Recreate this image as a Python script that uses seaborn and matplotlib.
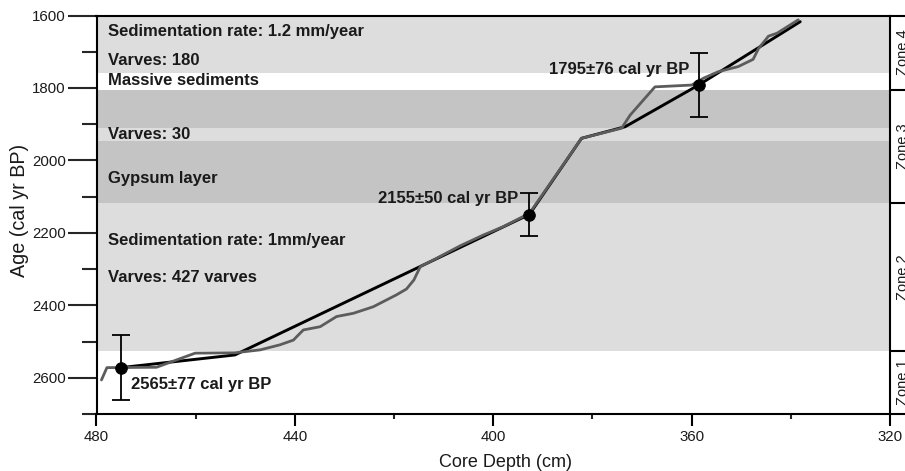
import numpy as np
import pandas as pd
import matplotlib
matplotlib.use("Agg")
import matplotlib.pyplot as plt
import matplotlib.transforms as mtransforms
import seaborn as sns

# ---------------- data ----------------
# linear age model (black line)
model_depth = [475.1, 452.1, 392.7, 382.2, 373.4, 358.6, 338.1]
model_age = [2572, 2537, 2149, 1939, 1907, 1792, 1617]

# varve-counted chronology (grey line)
varve_depth = [479.0, 477.9, 467.9, 460.1, 452.1, 447.0, 443.0, 440.3, 438.3, 434.9,
               431.6, 428.2, 424.2, 419.5, 417.5, 416.0, 414.7, 412.1, 406.7, 402.0,
               398.0, 392.7, 382.2, 374.1, 372.4, 367.4, 360.0, 357.6, 354.6, 350.6,
               347.6, 346.5, 344.5, 342.8, 338.5]
varve_age = [2606, 2572, 2571, 2532, 2531, 2523, 2509, 2496, 2468, 2459,
             2431, 2422, 2404, 2371, 2355, 2330, 2293, 2275, 2236, 2206,
             2183, 2146, 1939, 1911, 1875, 1797, 1792, 1773, 1755, 1741,
             1721, 1691, 1657, 1649, 1612]

# radiocarbon dates
date_depth = [475.1, 392.7, 358.6]
date_age = [2572, 2150, 1792]
date_err = [90, 60, 88]
date_labels = ["2565±77 cal yr BP", "2155±50 cal yr BP", "1795±76 cal yr BP"]

# lithological bands (age from, age to, kind)
band_start = [1600, 1805, 1911, 1946, 2117]
band_end = [1760, 1911, 1946, 2117, 2527]
band_kind = ["light", "dark", "light", "dark", "light"]

# annotations
note_texts = ["Sedimentation rate: 1.2 mm/year", "Varves: 180", "Massive sediments",
              "Varves: 30", "Gypsum layer", "Sedimentation rate: 1mm/year",
              "Varves: 427 varves"]
note_ages = [1645, 1723, 1780, 1928, 2051, 2222, 2323]

# zones
zone_names = ["Zone 4", "Zone 3", "Zone 2", "Zone 1"]
zone_bounds = [1600, 1805, 2117, 2527, 2700]

x_ticks = [480, 440, 400, 360, 320]
x_minor = [460, 420, 380, 340]
y_ticks = [1600, 1800, 2000, 2200, 2400, 2600]
y_minor = [1700, 1900, 2100, 2300, 2500, 2700]

# ---------------- style ----------------
sns.set_theme(style="white")
plt.rcParams["font.family"] = ["Liberation Sans", "DejaVu Sans"]

W, H = 905, 471
fig = plt.figure(figsize=(W / 100, H / 100), dpi=100)
L, R, T, B = 96.5, 890, 15.5, 414
ax = fig.add_axes([L / W, 1 - B / H, (R - L) / W, (B - T) / H])
ax.set_xlim(480, 320)
ax.set_ylim(2700, 1600)

colors = {"light": "#dddddd", "dark": "#c4c4c4"}
for s, e, k in zip(band_start, band_end, band_kind):
    ax.axhspan(s, e, color=colors[k], lw=0, zorder=0)

model_df = pd.DataFrame({"depth": model_depth, "age": model_age})
varve_df = pd.DataFrame({"depth": varve_depth, "age": varve_age})
sns.lineplot(data=model_df, x="depth", y="age", sort=False, estimator=None,
             color="black", lw=2.1, ax=ax, zorder=3)
sns.lineplot(data=varve_df, x="depth", y="age", sort=False, estimator=None,
             color="#5c5c5c", lw=2.0, ax=ax, zorder=4)

ax.errorbar(date_depth, date_age, yerr=date_err, fmt="none", ecolor="black",
            elinewidth=1.3, capsize=6.5, capthick=1.3, zorder=5)
sns.scatterplot(x=date_depth, y=date_age, color="black", s=70, marker="o",
                edgecolor="black", ax=ax, zorder=6)

# text annotations
for t, a in zip(note_texts, note_ages):
    ax.text(477.7, a, t, fontsize=12, fontweight="bold", ha="left", va="center",
            color="#1a1a1a", zorder=7)
ax.text(473.0, 2618, date_labels[0], fontsize=12, fontweight="bold", ha="left",
        va="center", color="#1a1a1a", zorder=7)
ax.text(394.9, 2105, date_labels[1], fontsize=12, fontweight="bold", ha="right",
        va="center", color="#1a1a1a", zorder=7)
ax.text(360.5, 1748, date_labels[2], fontsize=12, fontweight="bold", ha="right",
        va="center", color="#1a1a1a", zorder=7)

# axes styling
for sp in ax.spines.values():
    sp.set_visible(True)
    sp.set_color("black")
    sp.set_linewidth(1.5)
ax.set_xticks(x_ticks)
ax.set_xticks(x_minor, minor=True)
ax.set_yticks(y_ticks)
ax.set_yticks(y_minor, minor=True)
ax.set_xticklabels([str(v) for v in x_ticks])
ax.set_yticklabels([str(v) for v in y_ticks])
ax.tick_params(axis="x", which="major", direction="out", length=8.5, width=1.5,
               pad=3, labelsize=10.8, bottom=True, colors="black")
ax.tick_params(axis="x", which="minor", direction="out", length=3.8, width=1.5,
               bottom=True)
ax.tick_params(axis="y", which="major", direction="out", length=21, width=1.5,
               pad=1, labelsize=10.8, left=True)
ax.tick_params(axis="y", which="minor", direction="out", length=10.5, width=1.5,
               left=True)
ax.tick_params(labelcolor="#1a1a1a")

ax.set_xlabel("")
ax.set_ylabel("")
fig.text(505 / W, 1 - 462.7 / H, "Core Depth (cm)", fontsize=13, ha="center",
         va="center", color="#1a1a1a")
fig.text(20 / W, 1 - 210 / H, "Age (cal yr BP)", fontsize=14.2, ha="center",
         va="center", rotation=90, color="#1a1a1a")

# zone column on the right
zax = fig.add_axes([R / W, 1 - B / H, 40 / W, (B - T) / H], sharey=ax)
zax.set_facecolor("none")
zax.set_xlim(0, 1)
zax.set_ylim(2700, 1600)
zax.set_xticks([])
zax.tick_params(axis="y", left=False, labelleft=False)
for name, sp in zax.spines.items():
    sp.set_visible(name in ("top", "bottom"))
    sp.set_color("black")
    sp.set_linewidth(1.5)
for b in zone_bounds[1:-1]:
    zax.axhline(b, color="black", lw=1.5)
trans = mtransforms.blended_transform_factory(zax.transAxes, zax.transData)
for i, name in enumerate(zone_names):
    mid = (zone_bounds[i] + zone_bounds[i + 1]) / 2
    zax.text(5.5 / 40, mid, name, transform=trans, rotation=90, ha="left",
             va="center", fontsize=10.5, color="#1a1a1a", clip_on=False)

fig.savefig("out.png", dpi=100)
